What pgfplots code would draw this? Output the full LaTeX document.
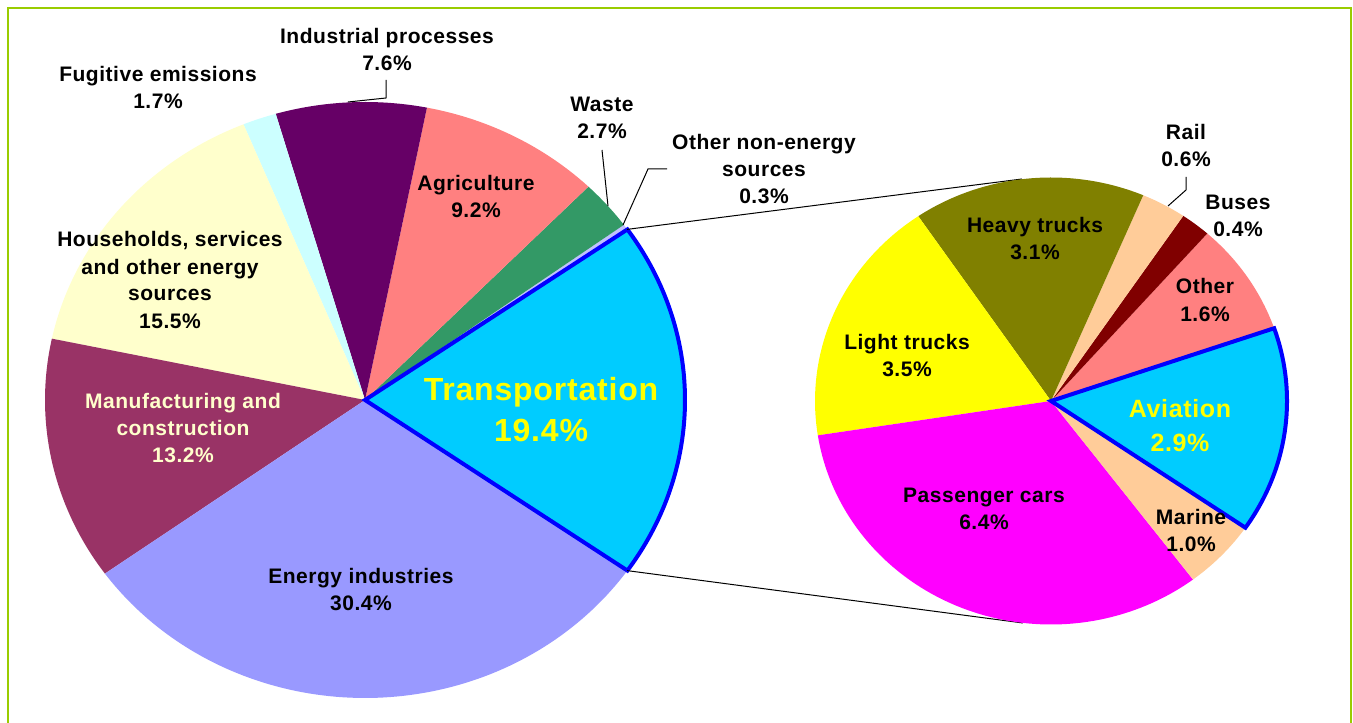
\documentclass[border=0pt]{standalone}
\usepackage{pgfplots}
\pgfplotsset{compat=1.18}
\usepackage{fontspec}
\setmainfont{Liberation Sans}[LetterSpace=2.5]
\definecolor{cEnergy}{HTML}{9999FF}
\definecolor{cManuf}{HTML}{993366}
\definecolor{cHouse}{HTML}{FFFFCC}
\definecolor{cFugit}{HTML}{CCFFFF}
\definecolor{cIndus}{HTML}{660066}
\definecolor{cAgri}{HTML}{FF8080}
\definecolor{cWaste}{HTML}{339966}
\definecolor{cOtherNE}{HTML}{C0C0FF}
\definecolor{cTrans}{HTML}{00CCFF}
\definecolor{cBorder}{HTML}{0000FF}
\definecolor{cMarine}{HTML}{FFCC99}
\definecolor{cCars}{HTML}{FF00FF}
\definecolor{cLight}{HTML}{FFFF00}
\definecolor{cHeavy}{HTML}{808000}
\definecolor{cRail}{HTML}{FFCC99}
\definecolor{cBuses}{HTML}{800000}
\definecolor{cOtherT}{HTML}{FF8080}
\definecolor{cFrame}{HTML}{99CC00}
\definecolor{cLabelY}{HTML}{FFFF00}
\definecolor{cLabelM}{HTML}{FFFFCC}
\newcommand\lbl{\fontsize{10.5}{13.5}\selectfont\bfseries}
\gdef\cum{0}
% cx cy rx ry value deg-per-unit colour extra-options
\newcommand\pslice[8]{%
  \pgfmathsetmacro\aone{\cum}%
  \pgfmathsetmacro\atwo{\cum+#5*#6}%
  \xdef\cum{\atwo}%
  \edef\temp{\noexpand\addplot[fill=#7,#8,domain=\aone:\atwo,samples=90,variable=\noexpand\t] ({#1+#3*cos(\noexpand\t)},{#2+#4*sin(\noexpand\t)}) -- (axis cs:#1,#2) -- cycle;}%
  \temp}
\begin{document}
\begin{tikzpicture}
\begin{axis}[
  scale only axis, width=676.5pt, height=361pt,
  xmin=0, xmax=1353, ymin=0, ymax=722,
  hide axis, clip=true]
\addplot[fill=white, draw=none] coordinates {(0,0) (1353,0) (1353,722) (0,722)} -- cycle;
% ---- left pie (percent of total), start at 34.92 deg, counter-clockwise
\gdef\cum{34.92}
\pslice{365}{322}{320}{298}{0.3}{3.6}{cOtherNE}{draw=none}
\pslice{365}{322}{320}{298}{2.7}{3.6}{cWaste}{draw=none}
\pslice{365}{322}{320}{298}{9.2}{3.6}{cAgri}{draw=none}
\pslice{365}{322}{320}{298}{7.6}{3.6}{cIndus}{draw=none}
\pslice{365}{322}{320}{298}{1.7}{3.6}{cFugit}{draw=none}
\pslice{365}{322}{320}{298}{15.5}{3.6}{cHouse}{draw=none}
\pslice{365}{322}{320}{298}{13.2}{3.6}{cManuf}{draw=none}
\pslice{365}{322}{320}{298}{30.4}{3.6}{cEnergy}{draw=none}
\pslice{365}{322}{320}{298}{19.4}{3.6}{cTrans}{draw=cBorder,line width=2pt,line join=miter}
% ---- connector lines
\addplot[black, line width=0.5pt] coordinates {(627,492.6) (1022,543)};
\addplot[black, line width=0.5pt] coordinates {(627,151.4) (1023,99)};
% ---- right pie (transportation breakdown, total 19.5)
\gdef\cum{19.0}
\pslice{1051}{321}{236}{223.5}{1.6}{18.4615}{cOtherT}{draw=none}
\pslice{1051}{321}{236}{223.5}{0.4}{18.4615}{cBuses}{draw=none}
\pslice{1051}{321}{236}{223.5}{0.6}{18.4615}{cRail}{draw=none}
\pslice{1051}{321}{236}{223.5}{3.1}{18.4615}{cHeavy}{draw=none}
\pslice{1051}{321}{236}{223.5}{3.5}{18.4615}{cLight}{draw=none}
\pslice{1051}{321}{236}{223.5}{6.4}{18.4615}{cCars}{draw=none}
\pslice{1051}{321}{236}{223.5}{1.0}{18.4615}{cMarine}{draw=none}
\pslice{1051}{321}{236}{223.5}{2.9}{18.4615}{cTrans}{draw=cBorder,line width=2pt,line join=miter}
% ---- leader lines
\addplot[black, line width=0.5pt] coordinates {(386,642) (386,624) (348,620)};
\addplot[black, line width=0.5pt] coordinates {(602,572) (608,516)};
\addplot[black, line width=0.5pt] coordinates {(667,553) (648,553) (623,497)};
\addplot[black, line width=0.5pt] coordinates {(1186,545) (1186,532) (1168,516)};
% ---- frame
\addplot[draw=cFrame, line width=1pt] coordinates {(7.5,-5) (7.5,713.5) (1351,713.5) (1351,-5)};
% ---- labels
\node[font=\lbl, align=center, inner sep=0pt] at (axis cs:158,634.5) {Fugitive emissions\\1.7\%};
\node[font=\lbl, align=center, inner sep=0pt] at (axis cs:387,672) {Industrial processes\\7.6\%};
\node[font=\lbl, align=center, inner sep=0pt] at (axis cs:602,604) {Waste\\2.7\%};
\node[font=\lbl, align=center, inner sep=0pt] at (axis cs:764,552.5) {Other non-energy\\sources\\0.3\%};
\node[font=\lbl, align=center, inner sep=0pt] at (axis cs:476,525.5) {Agriculture\\9.2\%};
\node[font=\lbl, align=center, inner sep=0pt] at (axis cs:170,442) {Households, services\\and other energy\\sources\\15.5\%};
\node[font=\lbl, align=center, inner sep=0pt, text=cLabelM] at (axis cs:183,294) {Manufacturing and\\construction\\13.2\%};
\node[font=\fontsize{16}{20.5}\selectfont\bfseries, align=center, inner sep=0pt, text=cLabelY] at (axis cs:541,312.5) {Transportation\\19.4\%};
\node[font=\lbl, align=center, inner sep=0pt] at (axis cs:361,132.5) {Energy industries\\30.4\%};
\node[font=\lbl, align=center, inner sep=0pt] at (axis cs:1186,576) {Rail\\0.6\%};
\node[font=\lbl, align=center, inner sep=0pt] at (axis cs:1238,506) {Buses\\0.4\%};
\node[font=\lbl, align=center, inner sep=0pt] at (axis cs:1035,483.5) {Heavy trucks\\3.1\%};
\node[font=\lbl, align=center, inner sep=0pt] at (axis cs:1205,422) {Other\\1.6\%};
\node[font=\lbl, align=center, inner sep=0pt] at (axis cs:907,366.5) {Light trucks\\3.5\%};
\node[font=\fontsize{12.5}{17}\selectfont\bfseries, align=center, inner sep=0pt, text=cLabelY] at (axis cs:1180,296) {Aviation\\2.9\%};
\node[font=\lbl, align=center, inner sep=0pt] at (axis cs:984,213.5) {Passenger cars\\6.4\%};
\node[font=\lbl, align=center, inner sep=0pt] at (axis cs:1191,191.5) {Marine\\1.0\%};
\end{axis}
\end{tikzpicture}
\end{document}
